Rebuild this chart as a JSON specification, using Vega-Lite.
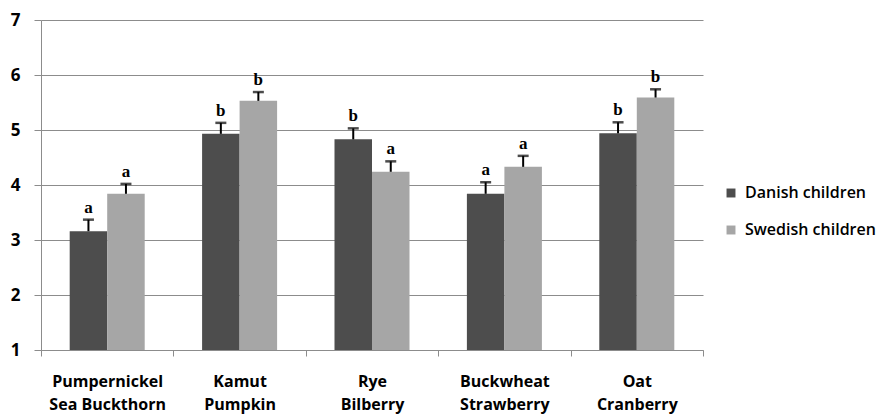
{
  "$schema": "https://vega.github.io/schema/vega-lite/v6.json",
  "width": 662,
  "height": 330,
  "autosize": {"type": "none"},
  "padding": {"left": 41, "top": 20, "right": 179, "bottom": 66},
  "background": "white",
  "config": {
    "view": {"stroke": null},
    "font": "Open Sans"
  },
  "data": {
    "values": [
      {"grain": "Pumpernickel|Sea Buckthorn", "group": "Danish children", "value": 3.16, "upper": 3.37, "letter": "a"},
      {"grain": "Pumpernickel|Sea Buckthorn", "group": "Swedish children", "value": 3.84, "upper": 4.02, "letter": "a"},
      {"grain": "Kamut|Pumpkin", "group": "Danish children", "value": 4.93, "upper": 5.13, "letter": "b"},
      {"grain": "Kamut|Pumpkin", "group": "Swedish children", "value": 5.53, "upper": 5.69, "letter": "b"},
      {"grain": "Rye|Bilberry", "group": "Danish children", "value": 4.83, "upper": 5.03, "letter": "b"},
      {"grain": "Rye|Bilberry", "group": "Swedish children", "value": 4.24, "upper": 4.43, "letter": "a"},
      {"grain": "Buckwheat|Strawberry", "group": "Danish children", "value": 3.84, "upper": 4.05, "letter": "a"},
      {"grain": "Buckwheat|Strawberry", "group": "Swedish children", "value": 4.33, "upper": 4.53, "letter": "a"},
      {"grain": "Oat|Cranberry", "group": "Danish children", "value": 4.94, "upper": 5.14, "letter": "b"},
      {"grain": "Oat|Cranberry", "group": "Swedish children", "value": 5.59, "upper": 5.74, "letter": "b"}
    ]
  },
  "encoding": {
    "x": {
      "field": "grain",
      "type": "nominal",
      "sort": null,
      "scale": {"paddingInner": 0, "paddingOuter": 0},
      "axis": {
        "title": null,
        "labelAngle": 0,
        "labelExpr": "split(datum.label, '|')",
        "labelFont": "Open Sans",
        "labelFontSize": 16,
        "labelFontWeight": "bold",
        "labelColor": "#000000",
        "labelLineHeight": 23,
        "labelPadding": 17,
        "tickBand": "extent",
        "ticks": true,
        "tickSize": 6,
        "tickColor": "#8c8c8c",
        "domainColor": "#8c8c8c",
        "grid": false
      }
    },
    "xOffset": {
      "field": "group",
      "type": "nominal",
      "scale": {"paddingInner": 0, "paddingOuter": 0.765}
    },
    "y": {
      "field": "value",
      "type": "quantitative",
      "scale": {"domain": [1, 7], "nice": false, "zero": false},
      "axis": {
        "title": null,
        "values": [1, 2, 3, 4, 5, 6, 7],
        "labelFont": "Open Sans",
        "labelFontSize": 17,
        "labelFontWeight": "bold",
        "labelColor": "#000000",
        "labelPadding": 14,
        "tickSize": 7,
        "tickColor": "#8c8c8c",
        "domainColor": "#8c8c8c",
        "grid": true,
        "gridColor": "#8c8c8c"
      }
    }
  },
  "layer": [
    {
      "mark": {"type": "bar"},
      "encoding": {
        "y2": {"datum": 1},
        "color": {
          "field": "group",
          "type": "nominal",
          "scale": {"domain": ["Danish children", "Swedish children"], "range": ["#4d4d4d", "#a6a6a6"]},
          "legend": {
            "title": null,
            "orient": "none",
            "legendX": 682,
            "legendY": 165,
            "symbolType": "square",
            "symbolSize": 80,
            "symbolStrokeWidth": 0,
            "labelFont": "Open Sans",
            "labelFontSize": 16,
            "labelFontWeight": 600,
            "labelColor": "#000000",
            "rowPadding": 21,
            "labelOffset": 6,
            "labelLimit": 200
          }
        }
      }
    },
    {
      "mark": {"type": "rule", "color": "#000000", "strokeWidth": 2},
      "encoding": {"y2": {"field": "upper"}}
    },
    {
      "mark": {"type": "tick", "color": "#000000", "thickness": 2.5, "size": 11, "orient": "horizontal"},
      "encoding": {"y": {"field": "upper", "type": "quantitative"}}
    },
    {
      "mark": {"type": "text", "font": "Liberation Serif", "fontWeight": "bold", "fontSize": 17, "baseline": "bottom", "dy": -3, "color": "#000000"},
      "encoding": {
        "y": {"field": "upper", "type": "quantitative"},
        "text": {"field": "letter"}
      }
    }
  ]
}
